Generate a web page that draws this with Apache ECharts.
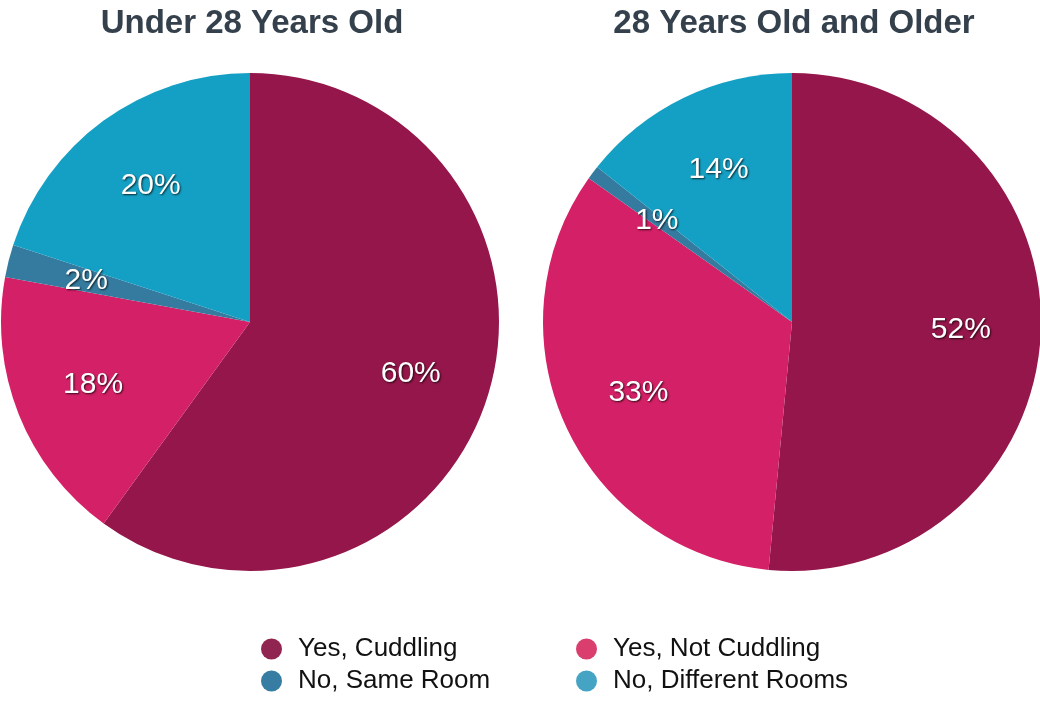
<!DOCTYPE html>
<html>
<head>
<meta charset="utf-8">
<script src="https://cdn.jsdelivr.net/npm/echarts@6/dist/echarts.min.js"></script>
<style>
html,body{margin:0;padding:0;background:#fff;}
#chart{width:1040px;height:705px;}
</style>
</head>
<body>
<div id="chart"></div>
<script>
const categories = ['Yes, Cuddling', 'Yes, Not Cuddling', 'No, Same Room', 'No, Different Rooms'];
const under28 = [60.0, 17.9, 2.1, 20.0];
const over28 = [51.5, 33.3, 0.9, 14.3];
const titles = ['Under 28 Years Old', '28 Years Old and Older'];
const sliceColors = ['#95164a', '#d42066', '#357b9f', '#14a0c4'];
const legendColors = ['#8f2550', '#d93e6e', '#367ca3', '#45a3c4'];

const R = 249;
const centers = [[250, 322], [792, 322]];
const datasets = [under28, over28];

function makeData(values, colored) {
  return categories.map((c, i) => ({
    name: c,
    value: values[i],
    itemStyle: { color: colored ? sliceColors[i] : 'rgba(0,0,0,0)' }
  }));
}

const series = [];
datasets.forEach((vals, k) => {
  series.push({
    type: 'pie',
    center: centers[k],
    radius: [0, R],
    startAngle: 90,
    clockwise: true,
    silent: true,
    animation: false,
    label: { show: false },
    labelLine: { show: false },
    emphasis: { disabled: true },
    data: makeData(vals, true)
  });
});
datasets.forEach((vals, k) => {
  series.push({
    type: 'pie',
    center: centers[k],
    radius: [0, R * 4 / 3],
    startAngle: 90,
    clockwise: true,
    silent: true,
    animation: false,
    z: 5,
    label: {
      show: true,
      position: 'inside',
      formatter: p => Math.round(p.value) + '%',
      color: '#ffffff',
      fontFamily: 'Liberation Sans, Arial, sans-serif',
      fontSize: 30,
      textShadowColor: 'rgba(0,0,0,0.75)',
      textShadowBlur: 2,
      textShadowOffsetX: 1,
      textShadowOffsetY: 1
    },
    labelLine: { show: false },
    emphasis: { disabled: true },
    itemStyle: { color: 'rgba(0,0,0,0)' },
    data: makeData(vals, false)
  });
});

const legendCommon = {
  orient: 'vertical',
  icon: 'circle',
  itemWidth: 21,
  itemHeight: 21,
  itemGap: 6,
  selectedMode: false,
  textStyle: { fontFamily: 'Liberation Sans, Arial, sans-serif', fontSize: 26, lineHeight: 26, color: '#111111', padding: [0, 0, 0, 11] }
};

const option = {
  backgroundColor: '#ffffff',
  title: titles.map((t, k) => ({
    text: t,
    left: centers[k][0] - 3,
    top: 2,
    textAlign: 'center',
    textStyle: { fontFamily: 'Liberation Sans, Arial, sans-serif', fontSize: 33, fontWeight: 'bold', color: '#34404c' }
  })),
  legend: [
    Object.assign({}, legendCommon, {
      left: 256, top: 631,
      data: [0, 2].map(i => ({ name: categories[i], itemStyle: { color: legendColors[i] } }))
    }),
    Object.assign({}, legendCommon, {
      left: 571, top: 631,
      data: [1, 3].map(i => ({ name: categories[i], itemStyle: { color: legendColors[i] } }))
    })
  ],
  series: series
};

const chart = echarts.init(document.getElementById('chart'), null, { renderer: 'canvas' });
chart.setOption(option);
</script>
</body>
</html>
